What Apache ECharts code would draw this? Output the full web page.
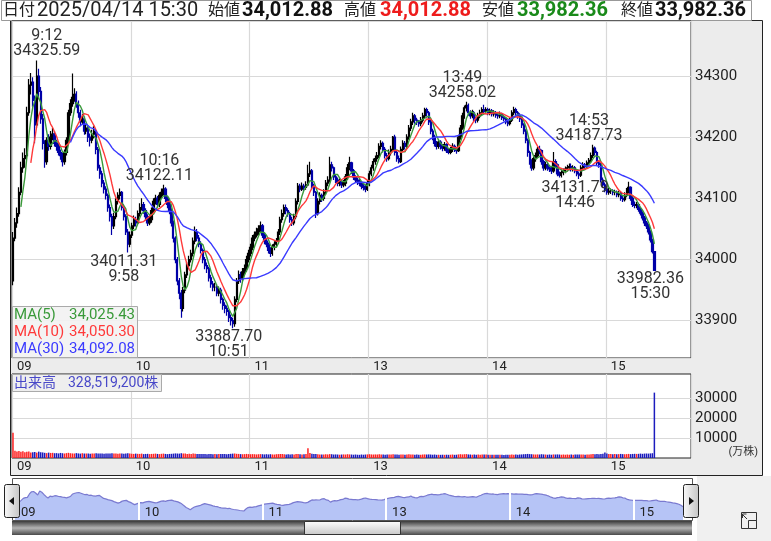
<!DOCTYPE html>
<html><head><meta charset="utf-8">
<script src="https://cdn.jsdelivr.net/npm/echarts@6/dist/echarts.min.js"></script>
<style>html,body{margin:0;padding:0;background:#fff}#c{width:771px;height:541px}</style>
</head><body><div id="c"></div>
<script>
// ---------------- data ----------------
const tradeDate = '2025/04/14';
const firstOpen = 33965;
// 1-minute closes (index points)
const closes = [
34035,34060,34075,34110,34150,34165,34170,34240,34285,34290,
34260,34220,34300,34275,34230,34190,34160,34195,34185,34200,
34205,34190,34185,34175,34170,34160,34175,34195,34240,34255,
34265,34270,34255,34240,34225,34230,34210,34215,34200,34195,
34205,34210,34180,34150,34140,34125,34115,34105,34085,34070,
34055,34070,34095,34105,34110,34085,34070,34045,34025,34040,
34055,34065,34060,34075,34085,34090,34080,34070,34060,34065,
34080,34095,34100,34090,34105,34110,34115,34100,34090,34080,
34060,34035,34000,33965,33945,33920,33950,33975,33990,34000,
34010,34030,34045,34035,34025,34015,34000,33990,33985,33970,
33960,33955,33955,33945,33950,33935,33925,33920,33915,33905,
33900,33895,33935,33965,33975,33970,33980,33985,34000,34010,
34020,34035,34040,34045,34050,34055,34040,34030,34025,34015,
34010,34020,34025,34030,34045,34065,34075,34085,34080,34075,
34065,34060,34070,34095,34120,34115,34120,34118,34122,34140,
34145,34120,34110,34075,34095,34105,34100,34110,34125,34130,
34155,34150,34135,34130,34125,34128,34122,34125,34135,34150,
34158,34145,34135,34130,34128,34125,34120,34118,34115,34125,
34140,34150,34160,34165,34170,34185,34190,34180,34170,34165,
34175,34180,34200,34175,34165,34160,34180,34190,34185,34200,
34215,34225,34235,34228,34225,34222,34228,34235,34245,34240,
34225,34210,34200,34190,34185,34192,34185,34182,34188,34178,
34175,34180,34185,34180,34178,34200,34215,34235,34248,34252,
34240,34235,34240,34230,34228,34235,34240,34245,34242,34245,
34240,34243,34238,34240,34236,34235,34238,34232,34230,34225,
34222,34228,34240,34245,34240,34235,34230,34220,34210,34195,
34175,34160,34150,34165,34170,34180,34178,34160,34150,34155,
34150,34148,34145,34160,34155,34140,34138,34142,34145,34148,
34150,34152,34148,34150,34145,34140,34138,34150,34155,34152,
34158,34162,34170,34182,34175,34158,34155,34130,34122,34115,
34110,34112,34112,34110,34110,34106,34108,34100,34098,34105,
34112,34118,34100,34090,34088.4,34090,34082,34076,34068,34059.85,
34055,34045,34031.91,34012.88,33982.36
];
const highs = [
34045,34068,34085,34118,34160,34175,34182,34250,34295,34305,
34298,34268,34325.59,34312,34282,34238,34195,34200,34205,34210,
34215,34210,34196,34190,34180,34175,34180,34200,34245,34262,
34304,34280,34275,34260,34245,34238,34234,34222,34220,34206,
34212,34218,34214,34184,34155,34145,34130,34120,34108,34090,
34075,34076,34100,34110,34116,34112,34090,34074,34050,34046,
34060,34072,34070,34080,34092,34100,34094,34084,34074,34072,
34085,34100,34106,34104,34110,34116,34122.11,34118,34104,34094,
34084,34064,34038,34004,33970,33950,33955,33980,33996,34006,
34016,34036,34054,34050,34040,34030,34018,34004,33995,33988,
33975,33965,33962,33960,33956,33954,33938,33930,33925,33918,
33910,33905,33940,33970,33982,33980,33986,33992,34006,34016,
34026,34040,34046,34052,34056,34062,34058,34044,34034,34028,
34020,34025,34030,34035,34050,34070,34082,34090,34090,34084,
34078,34070,34075,34100,34125,34124,34126,34124,34128,34155,
34160,34148,34124,34112,34100,34110,34108,34115,34130,34136,
34168,34160,34152,34140,34134,34133,34131,34130,34140,34156,
34168,34160,34148,34138,34134,34132,34128,34124,34122,34130,
34145,34155,34165,34170,34176,34190,34195,34193,34184,34174,
34180,34186,34202,34204,34178,34170,34185,34195,34194,34205,
34220,34230,34240,34238,34232,34228,34233,34240,34248,34248,
34243,34228,34214,34204,34194,34197,34195,34189,34192,34190,
34182,34184,34190,34188,34184,34204,34220,34240,34252,34258.02,
34255,34244,34245,34243,34234,34240,34245,34249,34253,34249,
34248,34247,34246,34244,34243,34240,34242,34240,34236,34233,
34229,34232,34244,34250,34248,34243,34239,34233,34223,34213,
34198,34178,34164,34168,34175,34184,34186,34180,34163,34160,
34158,34154,34152,34176,34164,34157,34144,34146,34149,34152,
34155,34157,34157,34154,34153,34148,34144,34154,34159,34158,
34162,34166,34175,34187.73,34185,34178,34162,34158,34134,34126,
34120,34117,34116,34115,34114,34113,34112,34111,34104,34110,
34117,34127,34120,34104,34095,34094,34093,34085,34079,34071,
34063,34058,34048,34034,34012.88
];
const lows = [
33958,34030,34052,34070,34105,34142,34150,34165,34235,34270,
34250,34190,34215,34262,34222,34180,34150,34155,34178,34180,
34195,34185,34178,34170,34163,34152,34155,34170,34190,34235,
34250,34258,34248,34232,34218,34220,34204,34205,34192,34185,
34190,34198,34172,34145,34132,34118,34108,34098,34078,34062,
34040,34050,34066,34090,34098,34080,34064,34040,34011.31,34020,
34035,34050,34054,34056,34070,34080,34075,34064,34055,34056,
34060,34076,34090,34085,34086,34100,34105,34094,34084,34074,
34054,34028,33994,33958,33935,33905,33915,33945,33970,33984,
33995,34005,34025,34030,34020,34010,33994,33984,33978,33964,
33954,33948,33948,33940,33940,33928,33918,33912,33908,33898,
33892,33887.70,33890,33930,33960,33962,33965,33975,33980,33995,
34005,34015,34030,34036,34040,34045,34035,34025,34020,34010,
34004,34006,34015,34020,34026,34040,34060,34070,34074,34070,
34060,34055,34056,34066,34090,34110,34112,34112,34114,34120,
34135,34115,34104,34068,34072,34090,34094,34096,34106,34120,
34126,34144,34130,34125,34120,34120,34117,34118,34120,34130,
34146,34140,34130,34125,34122,34120,34115,34113,34110,34112,
34120,34136,34145,34155,34160,34166,34180,34175,34165,34160,
34162,34170,34176,34170,34160,34157,34158,34176,34180,34182,
34196,34210,34220,34222,34220,34217,34218,34224,34230,34234,
34220,34205,34195,34185,34180,34181,34180,34177,34178,34174,
34172,34172,34176,34176,34173,34176,34196,34212,34230,34242,
34235,34230,34231,34226,34223,34224,34231,34236,34238,34238,
34236,34236,34234,34234,34232,34230,34231,34228,34226,34221,
34218,34219,34225,34236,34235,34230,34225,34215,34205,34190,
34168,34155,34145,34146,34160,34166,34172,34155,34145,34146,
34145,34143,34140,34142,34150,34136,34134,34134,34138,34141,
34144,34146,34144,34144,34141,34136,34131.79,34135,34146,34148,
34148,34154,34158,34166,34170,34153,34150,34126,34117,34110,
34106,34106,34107,34105,34105,34102,34102,34096,34094,34095,
34102,34108,34096,34086,34084,34084,34078,34072,34064,34055,
34050,34041,34028,34010,33982.36
];
// volume, 万株
const volumes = [
12650,3700,3300,3500,3200,3400,2900,3100,3250,2750,2950,3050,2700,3200,2900,2800,2600,2450,2700,2550,
2600,2400,2450,2300,2550,2400,2250,2450,2600,2400,2300,2250,2450,2300,2200,2400,2250,2300,2200,2100,
2250,2200,2400,2300,2250,2200,2100,2250,2300,2200,2400,2200,2250,2100,2200,2250,2100,2300,2400,2200,
2100,2050,2200,2100,2050,2200,1950,2050,2100,1950,2050,2100,2200,2050,1950,2100,2200,2050,1950,2050,
2100,2200,2300,2250,2200,2400,2250,2200,2050,2100,2050,2200,2100,2050,1950,2050,1950,2050,1900,1950,
2050,1900,1950,1900,2050,1950,2050,1950,1900,2050,2100,2200,2250,2100,2050,1950,1900,1950,2050,1950,
1900,1950,1900,1800,1900,1950,1900,1800,1900,1800,1900,1800,1750,1900,1950,2050,1950,1900,1800,1900,
1800,1900,1800,1950,2050,1900,1800,1900,1950,4850,
2450,2100,1950,2050,1900,1800,1750,1800,1900,1800,1950,1900,1750,1800,1750,1650,1750,1800,1750,1900,
1800,1750,1650,1750,1650,1600,1750,1650,1750,1800,1900,1800,1750,1800,1750,1900,1800,1750,1650,1750,
1800,1750,1900,1800,1750,1650,1800,1750,1650,1800,1900,1800,1750,1650,1750,1650,1600,1750,1800,1750,
1800,1750,1650,1750,1600,1650,1600,1650,1600,1650,1600,1650,1750,1600,1650,1800,1900,1800,1900,1950,
1800,1750,1650,1750,1650,1750,1650,1750,1800,1750,1650,1600,1650,1600,1650,1600,1650,1600,1500,1600,
1650,1600,1750,1650,1750,1650,1750,1800,1900,1950,2050,1950,1900,1800,1750,1800,1750,1900,1800,1750,
1650,1750,1650,1800,1750,1800,1750,1650,1750,1650,1750,1650,1750,1650,1750,1800,1750,1800,1750,1650,
1750,1800,1900,1950,1900,1950,1900,2050,2100,2750,2200,2050,1950,1900,1950,1900,1950,2050,1950,1900,
1950,2050,1950,2050,2100,2050,2100,2200,2100,2200,2250,2200,2300,2400,32851.92
];
const hourLabels = [[0,'09'],[60,'10'],[120,'11'],[180,'13'],[240,'14'],[300,'15']];
const annotations = [['9:12','high'],['9:58','low'],['10:16','high'],['10:51','low'],['13:49','high'],['14:46','low'],['14:53','high'],['15:30','close']];
const maPeriods = [5, 10, 30];
const volTicks = [10000, 20000, 30000];

// ---------------- derived ----------------
function hm(m){ return Math.floor(m/60) + ':' + String(m%60).padStart(2,'0'); }
const times = [];
for (let m = 9*60; m < 11*60+30; m++) times.push(hm(m));
for (let m = 12*60+30; m < 15*60+24; m++) times.push(hm(m));
times.push('15:30');
const SLOTS = 343;
const slots = times.slice();
for (let k = 1; slots.length < SLOTS; k++) slots.push('x' + k);

const opens = closes.map((c, i) => i === 0 ? firstOpen : closes[i-1]);
function movingAverage(n){
  return closes.map((c, i) => {
    if (i < n-1) return '-';
    let s = 0; for (let k = i-n+1; k <= i; k++) s += closes[k];
    return s / n;
  });
}
const mas = maPeriods.map(movingAverage);
function fmtNum(v, dec){
  const s = v.toFixed(dec); const p = s.split('.');
  const w = p[0].replace(/\B(?=(\d{3})+(?!\d))/g, ',');
  return p.length > 1 ? w + '.' + p[1] : w;
}
const hourIdx = hourLabels.map(h => h[0]);
const hourName = {}; hourLabels.forEach(h => hourName[h[0]] = h[1]);

const FONT = 'Roboto, "Noto Sans CJK JP", sans-serif';
const UP = '#000000', DOWN = '#0000a8';
const VUP = '#ff2222', VDOWN = '#1c1cbe';
const MA_COLORS = ['#3a9a3a', '#ff3a3a', '#3a3aff'];
const GRID_LINE = '#d9d9d9';

function txt(x, y, text, size, color, extra){
  return {type:'text', x:x, y:y, z:100, silent:true,
    style: Object.assign({text:text, fontSize:size, fontFamily:FONT, fill:color, verticalAlign:'middle', align:'left'}, extra || {})};
}

const last = closes.length - 1;
const G = [];
// frame backgrounds
G.push({type:'rect', z:-10, silent:true, shape:{x:10.5,y:20.5,width:752,height:455}, style:{fill:'#ececec', stroke:'#222', lineWidth:1}});
G.push({type:'rect', z:-10, silent:true, shape:{x:1.5,y:0.5,width:750,height:20}, style:{fill:'#fff', stroke:'#999', lineWidth:1}});
G.push({type:'rect', z:-10, silent:true, shape:{x:697,y:476,width:74,height:65}, style:{fill:'#f0f0f0'}});
// header
G.push(txt(3, 11, '日付', 16, '#222'));
G.push(txt(37, 11, tradeDate + ' ' + times[last], 20, '#222'));
G.push(txt(208, 11, '始値', 16, '#222'));
G.push(txt(242, 11, fmtNum(opens[last],2), 20, '#111', {fontWeight:'bold'}));
G.push(txt(344, 11, '高値', 16, '#222'));
G.push(txt(380, 11, fmtNum(highs[last],2), 20, '#ee1c1c', {fontWeight:'bold'}));
G.push(txt(482, 11, '安値', 16, '#222'));
G.push(txt(517, 11, fmtNum(lows[last],2), 20, '#1a8a1a', {fontWeight:'bold'}));
G.push(txt(621, 11, '終値', 16, '#222'));
G.push(txt(655, 11, fmtNum(closes[last],2), 20, '#111', {fontWeight:'bold'}));
// MA legend box
G.push({type:'rect', z:99, silent:true, shape:{x:12.5,y:306.5,width:125,height:51}, style:{fill:'rgba(242,242,242,0.92)', stroke:'#aaa', lineWidth:1}});
maPeriods.forEach((p, k) => {
  G.push(txt(14, 315 + k*17, 'MA(' + p + ')', 15, MA_COLORS[k]));
  G.push(txt(135, 315 + k*17, fmtNum(mas[k][last], 2), 15, MA_COLORS[k], {align:'right'}));
});
// volume label box
G.push({type:'rect', z:99, silent:true, shape:{x:12.5,y:374.5,width:149,height:17}, style:{fill:'#eeeeee', stroke:'#aaa', lineWidth:1}});
G.push(txt(14, 383, '出来高', 14, '#4848c8'));
G.push(txt(68, 383, fmtNum(volumes[last]*10000, 0) + '株', 14, '#4848c8'));
G.push(txt(758, 452, '(万株)', 11, '#333', {align:'right'}));
// slider frame, handles, scrollbar
G.push({type:'rect', z:-5, silent:true, shape:{x:12.5,y:478.5,width:680,height:42}, style:{fill:'#fff', stroke:'#555', lineWidth:1}});
function handle(x, dir){
  G.push({type:'rect', z:110, silent:true, shape:{x:x+0.5,y:484.5,width:15,height:33,r:2},
    style:{fill:{type:'linear',x:0,y:0,x2:1,y2:0,colorStops:[{offset:0,color:'#fafafa'},{offset:1,color:'#c4c4c4'}]}, stroke:'#222', lineWidth:1}});
  const cx = x + 8;
  const pts = dir < 0 ? [[cx-3,501],[cx+2,497],[cx+2,505]] : [[cx+3,501],[cx-2,497],[cx-2,505]];
  G.push({type:'polygon', z:111, silent:true, shape:{points:pts}, style:{fill:'#111'}});
}
handle(4, -1); handle(683, 1);
G.push({type:'rect', z:5, silent:true, shape:{x:12,y:521,width:680,height:14},
  style:{fill:{type:'linear',x:0,y:0,x2:0,y2:1,colorStops:[{offset:0,color:'#3a3a3a'},{offset:0.5,color:'#b4b4b4'},{offset:1,color:'#4a4a4a'}]}}});
G.push({type:'rect', z:6, silent:true, shape:{x:304.5,y:521.5,width:96,height:13},
  style:{fill:{type:'linear',x:0,y:0,x2:0,y2:1,colorStops:[{offset:0,color:'#ffffff'},{offset:1,color:'#c8c8c8'}]}, stroke:'#333', lineWidth:1}});
// expand icon
G.push({type:'rect', z:10, silent:true, shape:{x:741.5,y:512.5,width:15,height:16}, style:{fill:'none', stroke:'#333', lineWidth:1}});
G.push({type:'rect', z:10, silent:true, shape:{x:748.5,y:520.5,width:8,height:8}, style:{fill:'#f0f0f0', stroke:'#333', lineWidth:1}});
G.push({type:'polyline', z:10, silent:true, shape:{points:[[747,519],[742.5,514.5]]}, style:{stroke:'#333', lineWidth:1}});
G.push({type:'polyline', z:10, silent:true, shape:{points:[[742.5,518],[742.5,514],[746.5,514]]}, style:{stroke:'#333', lineWidth:1, fill:'none'}});

function catAxis(gridIndex){
  return {
    type:'category', gridIndex:gridIndex, data:slots, boundaryGap:true,
    axisLine:{show:false}, axisTick:{show:false},
    splitLine:{show:true, interval:(i)=>hourIdx.indexOf(i) >= 0, lineStyle:{color:GRID_LINE, width:1.2}},
    axisLabel:{show:true, interval:(i)=>hourIdx.indexOf(i) >= 0, formatter:(v,i)=>hourName[i] || '',
      align:'left', padding:[0,0,0,4], margin:2, fontSize:13, color:'#222', fontFamily:FONT}
  };
}

const option = {
  animation:false,
  backgroundColor:'#fff',
  graphic:{elements:G},
  grid:[
    {left:12, top:21, width:679, height:337, show:true, backgroundColor:'#fff', borderColor:'#222', borderWidth:1, outerBoundsMode:'none'},
    {left:12, top:374, width:679, height:84, show:true, backgroundColor:'#fff', borderColor:'#222', borderWidth:1, outerBoundsMode:'none'},
    {left:15, top:483, width:668, height:37, show:false, outerBoundsMode:'none'}
  ],
  xAxis:[
    catAxis(0),
    catAxis(1),
    {type:'category', gridIndex:2, data:times, boundaryGap:false, z:20,
      axisLine:{show:false}, axisTick:{show:false}, splitLine:{show:false},
      axisLabel:{show:true, inside:true, interval:(i)=>hourIdx.indexOf(i) >= 0, formatter:(v,i)=>hourName[i] || '',
        align:'left', padding:[0,0,0,6], margin:1, fontSize:13, color:'#222', fontFamily:FONT}}
  ],
  yAxis:[
    {type:'value', gridIndex:0, position:'right', min:33839, max:34390, splitNumber:5,
      axisLine:{show:false}, axisTick:{show:false},
      splitLine:{show:true, lineStyle:{color:GRID_LINE, width:1.2}},
      axisLabel:{margin:4, fontSize:15, color:'#222', fontFamily:FONT, showMinLabel:false, showMaxLabel:false, formatter:(v)=>String(v)}},
    {type:'value', gridIndex:1, position:'right', min:0, max:42211, splitNumber:5,
      axisLine:{show:false}, axisTick:{show:false}, splitLine:{show:false},
      axisLabel:{margin:4, fontSize:15, color:'#222', fontFamily:FONT, formatter:(v)=>volTicks.indexOf(v) >= 0 ? String(v) : ''}},
    {type:'value', gridIndex:2, min:33713, max:34462, show:false}
  ],
  series:[
    {type:'candlestick', name:'price', xAxisIndex:0, yAxisIndex:0, barWidth:1.8,
      data: closes.map((c,i)=>[opens[i], c, lows[i], highs[i]]),
      itemStyle:{color:UP, color0:DOWN, borderColor:UP, borderColor0:DOWN, borderWidth:1.2},
      markPoint:{symbol:'circle', symbolSize:1, itemStyle:{color:'rgba(0,0,0,0)'}, silent:true,
        data: annotations.map((a, k) => {
          const i = times.indexOf(a[0]);
          const kind = a[1];
          const v = kind === 'high' ? highs[i] : (kind === 'low' ? lows[i] : closes[i]);
          return {coord:[times[i], v], value:v,
            label:{show:true, position: kind === 'high' ? 'top' : 'bottom', distance:1,
              offset:[k === 0 ? 10 : -4, 0],
              formatter: kind === 'high' ? (a[0] + '\n' + v.toFixed(2)) : (v.toFixed(2) + '\n' + a[0]),
              color:'#333', fontSize:16, lineHeight:15, fontFamily:FONT}};
        })}
    },
    ...maPeriods.map((p, k) => ({type:'line', name:'MA'+p, xAxisIndex:0, yAxisIndex:0, data:mas[k],
      symbol:'none', smooth:false, lineStyle:{color:MA_COLORS[k], width:1.4}, itemStyle:{color:MA_COLORS[k]}})),
    {type:'bar', name:'volume', xAxisIndex:1, yAxisIndex:1, barWidth:1.5,
      data: volumes.map((v,i)=>({value:v, itemStyle:{color: closes[i] >= opens[i] ? VUP : VDOWN}})),
      markLine:{silent:true, z:1, symbol:['none','none'], label:{show:false}, lineStyle:{color:GRID_LINE, type:'solid', width:1.2},
        data: volTicks.map(t=>({yAxis:t}))}
    },
    {type:'line', name:'slider', xAxisIndex:2, yAxisIndex:2, data:closes, symbol:'none',
      lineStyle:{color:'#7a7ad0', width:1.2}, areaStyle:{color:'#b6c4f6', opacity:1},
      markLine:{silent:true, symbol:['none','none'], label:{show:false}, lineStyle:{color:'#ffffff', type:'solid', width:2},
        data: hourIdx.slice(1).map(i=>({xAxis:times[i]}))}
    }
  ]
};
const chart = echarts.init(document.getElementById('c'), null, {renderer:'canvas'});
chart.setOption(option);
</script>
</body></html>
